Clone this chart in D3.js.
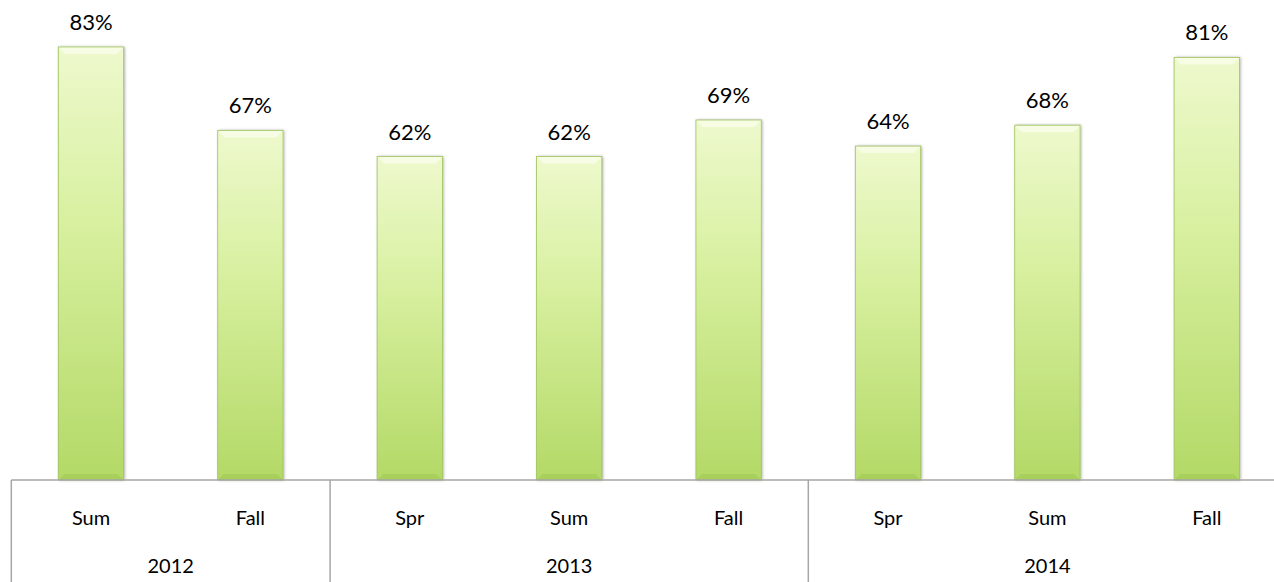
<!DOCTYPE html>
<html>
<head>
<meta charset="utf-8">
<script src="https://cdn.jsdelivr.net/npm/d3@7"></script>
<style>
  html, body { margin: 0; padding: 0; background: #fff; }
  .canvas { width: 1274px; height: 582px; overflow: hidden; }
  text { font-family: Lato, "Open Sans", sans-serif; fill: #000; }
</style>
</head>
<body>
<div class="canvas"></div>
<script>
const terms = ['Sum', 'Fall', 'Spr', 'Sum', 'Fall', 'Spr', 'Sum', 'Fall']
const years = ['2012', '2013', '2014']
const termsPerYear = [2, 3, 3]
const values = [0.83, 0.67, 0.62, 0.62, 0.69, 0.64, 0.68, 0.81]

const width = 1274
const height = 582

const svg = d3.select('.canvas').append('svg')
    .attr('width', width)
    .attr('height', height)

const baseY = 480
// plot runs a bit past the right edge, like the original
const x = d3.scaleBand()
    .domain(d3.range(values.length))
    .range([11.3, 11.3 + 159.4 * values.length])
    .paddingInner(0.59)
    .paddingOuter(0.295)

const y = d3.scaleLinear().domain([0, 0.92]).range([baseY, 0])

const defs = svg.append('defs')
const grad = defs.append('linearGradient')
    .attr('id', 'barFill')
    .attr('x1', 0).attr('y1', 0).attr('x2', 0).attr('y2', 1)
grad.append('stop').attr('offset', '0%').attr('stop-color', '#eef9cd')
grad.append('stop').attr('offset', '40%').attr('stop-color', '#d8f0a0')
grad.append('stop').attr('offset', '100%').attr('stop-color', '#b3d966')

const shadow = defs.append('filter').attr('id', 'shadow')
    .attr('x', '-20%').attr('y', '-5%').attr('width', '140%').attr('height', '110%')
shadow.append('feDropShadow')
    .attr('dx', 1).attr('dy', 0).attr('stdDeviation', 1.6)
    .attr('flood-color', '#000').attr('flood-opacity', 0.35)

const bars = svg.append('g').selectAll('g')
    .data(values)
    .join('g')

bars.append('rect')
    .attr('x', (d, i) => x(i))
    .attr('y', d => y(d))
    .attr('width', x.bandwidth())
    .attr('height', d => baseY - y(d))
    .attr('fill', 'url(#barFill)')
    .attr('filter', 'url(#shadow)')

// bevel highlight at the top and darker edge at the bottom
bars.append('path')
    .attr('d', (d, i) => {
        let x0 = x(i), x1 = x(i) + x.bandwidth(), t = y(d), b = 7
        return `M${x0},${t}L${x1},${t}L${x1 - b},${t + b}L${x0 + b},${t + b}Z`
    })
    .attr('fill', '#fbfff0')
    .attr('opacity', 0.7)

bars.append('path')
    .attr('d', (d, i) => {
        let x0 = x(i), x1 = x(i) + x.bandwidth(), b = 6
        return `M${x0},${baseY}L${x1},${baseY}L${x1 - b},${baseY - b}L${x0 + b},${baseY - b}Z`
    })
    .attr('fill', '#8fb843')
    .attr('opacity', 0.3)

bars.append('rect')
    .attr('x', (d, i) => x(i))
    .attr('y', d => y(d))
    .attr('width', x.bandwidth())
    .attr('height', d => baseY - y(d))
    .attr('fill', 'none')
    .attr('stroke', '#9dc25a')
    .attr('stroke-width', 0.8)

bars.append('text')
    .attr('x', (d, i) => x(i) + x.bandwidth() / 2)
    .attr('y', d => y(d) - 17)
    .attr('text-anchor', 'middle')
    .attr('font-size', 22)
    .text(d => Math.round(d * 100) + '%')

// category axis
const axis = svg.append('g')
axis.append('line')
    .attr('x1', x.range()[0]).attr('x2', width)
    .attr('y1', baseY).attr('y2', baseY)
    .attr('stroke', '#a6a6a6').attr('stroke-width', 1.5)

axis.selectAll('.term')
    .data(terms)
    .join('text')
    .attr('class', 'term')
    .attr('x', (d, i) => x(i) + x.bandwidth() / 2)
    .attr('y', 525)
    .attr('text-anchor', 'middle')
    .attr('font-size', 20)
    .text(d => d)

let starts = d3.cumsum([0].concat(termsPerYear)).slice(0, years.length)
let step = x.step()

axis.selectAll('.div')
    .data(starts)
    .join('line')
    .attr('class', 'div')
    .attr('x1', d => x.range()[0] + d * step)
    .attr('x2', d => x.range()[0] + d * step)
    .attr('y1', baseY).attr('y2', height)
    .attr('stroke', '#a6a6a6').attr('stroke-width', 1.5)

axis.selectAll('.year')
    .data(years)
    .join('text')
    .attr('class', 'year')
    .attr('x', (d, i) => x.range()[0] + (starts[i] + termsPerYear[i] / 2) * step)
    .attr('y', 573)
    .attr('text-anchor', 'middle')
    .attr('font-size', 20)
    .text(d => d)
</script>
</body>
</html>
